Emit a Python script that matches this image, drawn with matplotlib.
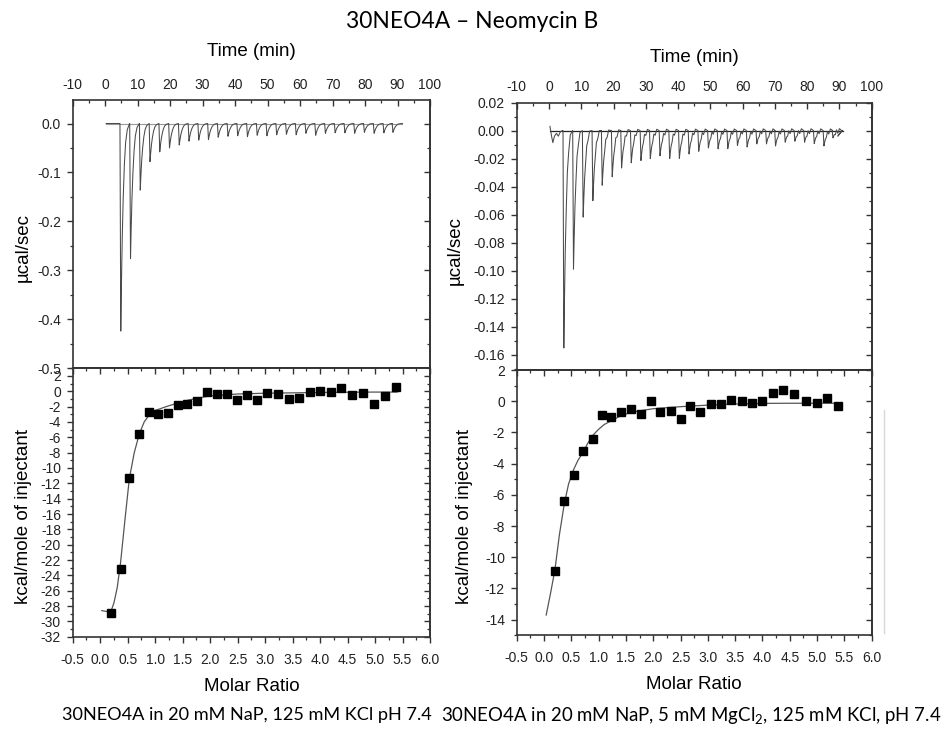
import matplotlib
matplotlib.use("Agg")
import matplotlib.pyplot as plt
from matplotlib.ticker import MultipleLocator, FormatStrFormatter
from matplotlib.lines import Line2D

plt.rcParams['font.family'] = ['Liberation Sans', 'DejaVu Sans']
plt.rcParams['axes.unicode_minus'] = False
plt.rcParams['mathtext.fontset'] = 'custom'
plt.rcParams['mathtext.rm'] = 'Lato'
plt.rcParams['mathtext.it'] = 'Lato:italic'

TITLE = "30NEO4A \u2013 Neomycin B"
CAP_L = "30NEO4A in 20 mM NaP, 125 mM KCl pH 7.4"
CAP_R = "30NEO4A in 20 mM NaP, 5 mM MgCl$_2$, 125 mM KCl, pH 7.4"

# ---------------- thermogram data (left) ----------------
left_peak_t = [4.8, 7.8, 10.8, 13.8, 16.8, 19.8, 22.8, 25.8, 28.8, 31.8,
               34.8, 37.8, 40.8, 43.8, 46.8, 49.8, 52.8, 55.8, 58.8, 61.8,
               64.8, 67.8, 70.8, 73.8, 76.8, 79.8, 82.8, 85.8, 88.6]
left_peak_y = [-0.424, -0.276, -0.136, -0.078, -0.058, -0.050, -0.044, -0.036, -0.034, -0.033,
               -0.028, -0.026, -0.025, -0.027, -0.024, -0.025, -0.023, -0.022, -0.023, -0.020,
               -0.024, -0.020, -0.019, -0.019, -0.020, -0.018, -0.020, -0.019, -0.018]
left_pre_t = [0.3, 2.0, 4.4]
left_pre_y = [0.0, 0.0, 0.0]
left_end_t = [91.5]
left_end_y = [0.0]

# ---------------- thermogram data (right) ----------------
right_peak_t = [4.6, 7.6, 10.6, 13.6, 16.5, 19.6, 22.5, 25.5, 28.5, 31.4,
                34.4, 37.4, 40.4, 43.4, 46.4, 49.4, 52.4, 55.4, 58.4, 61.4,
                64.4, 67.4, 70.2, 73.2, 76.2, 79.2, 82.2, 85.2, 88.0]
right_peak_y = [-0.155, -0.0988, -0.0617, -0.050, -0.039, -0.033, -0.0267, -0.023, -0.0214, -0.020,
                -0.018, -0.020, -0.0198, -0.0167, -0.0148, -0.0124, -0.013, -0.0129, -0.0107, -0.0117,
                -0.0095, -0.0095, -0.011, -0.0083, -0.0076, -0.0083, -0.0093, -0.011, -0.0052]
right_pre_t = [0.3, 0.8, 1.2, 1.7, 2.3, 2.9, 3.5, 4.2]
right_pre_y = [0.003, -0.004, -0.0086, -0.004, -0.002, -0.004, -0.001, 0.0]
right_end_t = [89.5, 90.2, 91.0]
right_end_y = [-0.004, -0.002, 0.0]

# normalized peak profile (offset from peak minimum, fraction of depth)
prof_dt = [-0.25, 0.0, 0.2, 0.45, 0.75, 1.1, 1.5, 2.0, 2.7]
prof_v = [0.0, 1.0, 0.78, 0.55, 0.36, 0.2, 0.09, 0.03, 0.0]
# small wiggle on the right trace (absolute, µcal/sec)
right_wiggle = [0.0, 0.0, 0.0, 0.0, -0.001, 0.0015, -0.0015, 0.0015, 0.0]

# ---------------- integrated heats (left) ----------------
left_ratio = [0.19, 0.37, 0.53, 0.71, 0.88, 1.05, 1.23, 1.41, 1.58, 1.76,
              1.94, 2.12, 2.30, 2.49, 2.67, 2.85, 3.04, 3.23, 3.43, 3.62,
              3.81, 4.00, 4.20, 4.39, 4.58, 4.78, 4.98, 5.18, 5.38]
left_heat = [-28.96, -23.2, -11.3, -5.6, -2.7, -2.9, -2.8, -1.74, -1.65, -1.26,
             -0.13, -0.35, -0.30, -1.09, -0.43, -1.13, -0.17, -0.39, -1.04, -0.87,
             -0.13, 0.0, -0.04, 0.48, -0.43, -0.17, -1.69, -0.56, 0.52]
left_fit_x = [0.03, 0.19, 0.25, 0.31, 0.37, 0.45, 0.53, 0.62, 0.71, 0.80, 0.90,
              1.0, 1.2, 1.4, 1.6, 1.8, 2.0, 2.5, 3.0, 3.5, 4.0, 4.5, 5.0, 5.4]
left_fit_y = [-28.6, -28.8, -27.6, -25.6, -22.4, -16.8, -11.4, -8.0, -5.6, -4.0, -3.0,
              -2.5, -2.0, -1.55, -1.15, -0.85, -0.6, -0.35, -0.25, -0.2, -0.15, -0.12, -0.1, -0.1]

# ---------------- integrated heats (right) ----------------
right_ratio = [0.20, 0.37, 0.54, 0.71, 0.89, 1.06, 1.23, 1.41, 1.59, 1.77,
               1.95, 2.13, 2.32, 2.50, 2.68, 2.86, 3.05, 3.24, 3.43, 3.62,
               3.81, 4.00, 4.19, 4.38, 4.58, 4.79, 4.99, 5.18, 5.38]
right_heat = [-10.91, -6.40, -4.74, -3.17, -2.40, -0.89, -1.04, -0.66, -0.51, -0.81,
              0.04, -0.66, -0.60, -1.13, -0.28, -0.66, -0.15, -0.19, 0.06, 0.04,
              -0.09, 0.04, 0.53, 0.74, 0.47, 0.02, -0.13, 0.21, -0.30]
right_fit_x = [0.04, 0.12, 0.20, 0.28, 0.37, 0.45, 0.54, 0.62, 0.71, 0.80, 0.89,
               1.0, 1.1, 1.23, 1.4, 1.6, 2.0, 2.5, 3.0, 3.5, 4.0, 4.5, 5.0, 5.4]
right_fit_y = [-13.7, -12.3, -10.8, -8.6, -6.6, -5.3, -4.4, -3.8, -3.3, -2.7, -2.2,
               -1.8, -1.5, -1.25, -0.95, -0.7, -0.48, -0.35, -0.25, -0.18, -0.14, -0.13, -0.13, -0.13]


def build_trace(pre_t, pre_y, peak_t, peak_y, end_t, end_y, wiggle=None):
    ts, ys = list(pre_t), list(pre_y)
    for tp, d in zip(peak_t, peak_y):
        for k, (dt, v) in enumerate(zip(prof_dt, prof_v)):
            ts.append(tp + dt)
            w = wiggle[k] if wiggle is not None else 0.0
            ys.append(d * v + w)
    ts += list(end_t)
    ys += list(end_y)
    return ts, ys


SPC = '#333333'
TXT = '#222222'


def style_axes(ax, xmaj, xmin, ymaj, ymin, top_panel):
    for s in ax.spines.values():
        s.set_color(SPC)
        s.set_linewidth(1.2)
    ax.xaxis.set_major_locator(MultipleLocator(xmaj))
    ax.xaxis.set_minor_locator(MultipleLocator(xmin))
    ax.yaxis.set_major_locator(MultipleLocator(ymaj))
    ax.yaxis.set_minor_locator(MultipleLocator(ymin))
    ax.tick_params(axis='y', which='both', direction='out', left=True, right=False,
                   labelsize=10, labelcolor=TXT, color=SPC, pad=4)
    ax.tick_params(which='major', length=4.5, width=1.0)
    ax.tick_params(which='minor', length=2.5, width=0.9)
    secy = ax.secondary_yaxis('right')
    secy.yaxis.set_major_locator(MultipleLocator(ymaj))
    secy.yaxis.set_minor_locator(MultipleLocator(ymin))
    secy.tick_params(which='both', direction='in', labelright=False, color=SPC)
    secy.tick_params(which='major', length=4.5, width=1.0)
    secy.tick_params(which='minor', length=2.5, width=0.9)
    secy.spines['right'].set_color(SPC)
    secy.spines['right'].set_linewidth(1.2)
    if top_panel:
        ax.tick_params(axis='x', which='both', direction='in', top=True, bottom=False,
                       labeltop=True, labelbottom=False, labelsize=10, labelcolor=TXT,
                       color=SPC, pad=6)
    else:
        ax.tick_params(axis='x', which='both', direction='out', top=False, bottom=True,
                       labelsize=10, labelcolor=TXT, color=SPC, pad=7)
        secx = ax.secondary_xaxis('top')
        secx.xaxis.set_major_locator(MultipleLocator(xmaj))
        secx.xaxis.set_minor_locator(MultipleLocator(xmin))
        secx.tick_params(which='both', direction='in', labeltop=False, color=SPC)
        secx.tick_params(which='major', length=4.5, width=1.0)
        secx.tick_params(which='minor', length=2.5, width=0.9)
        secx.spines['top'].set_color(SPC)
        secx.spines['top'].set_linewidth(1.2)


W, H = 944, 731
fig = plt.figure(figsize=(W / 100, H / 100), dpi=100)


def fr(x0, y0, x1, y1):
    return [x0 / W, 1 - y1 / H, (x1 - x0) / W, (y1 - y0) / H]


axLT = fig.add_axes(fr(72.7, 100, 430, 368.3))
axLB = fig.add_axes(fr(72.7, 368.3, 430, 636.7))
axRT = fig.add_axes(fr(516.7, 102.5, 871.7, 370))
axRB = fig.add_axes(fr(516.7, 370, 871.7, 635.3))

# ---- left top ----
tL, yL = build_trace(left_pre_t, left_pre_y, left_peak_t, left_peak_y, left_end_t, left_end_y)
axLT.plot([0.3, 91.5], [0, 0], color='#9a9a9a', lw=0.8)
axLT.plot(tL, yL, color='#4a4a4a', lw=0.75)
axLT.set_xlim(-10, 100)
axLT.set_ylim(-0.5, 0.048)
style_axes(axLT, 10, 5, 0.1, 0.05, True)
axLT.yaxis.set_major_formatter(FormatStrFormatter('%.1f'))
axLT.set_xlabel('Time (min)', fontsize=13.5)
axLT.xaxis.set_label_position('top')
axLT.set_ylabel('\u00b5cal/sec', fontsize=13.5)

# ---- left bottom ----
axLB.plot(left_fit_x, left_fit_y, color='#555555', lw=0.9)
axLB.plot(left_ratio, left_heat, 's', color='black', ms=5.5)
axLB.set_xlim(-0.5, 6.0)
axLB.set_ylim(-32, 3)
style_axes(axLB, 0.5, 0.25, 2, 1, False)
axLB.xaxis.set_major_formatter(FormatStrFormatter('%.1f'))
axLB.set_yticks(list(range(-32, 3, 2)))
axLB.set_xlabel('Molar Ratio', fontsize=13.5)
axLB.set_ylabel('kcal/mole of injectant', fontsize=13.5)

# ---- right top ----
tR, yR = build_trace(right_pre_t, right_pre_y, right_peak_t, right_peak_y, right_end_t, right_end_y,
                     right_wiggle)
axRT.plot([0.3, 91.0], [0, 0], color='#222222', lw=0.9)
axRT.plot(tR, yR, color='#4a4a4a', lw=0.75)
axRT.set_xlim(-10, 100)
axRT.set_ylim(-0.1707, 0.02)
style_axes(axRT, 10, 5, 0.02, 0.01, True)
axRT.yaxis.set_major_formatter(FormatStrFormatter('%.2f'))
axRT.set_xlabel('Time (min)', fontsize=13.5)
axRT.xaxis.set_label_position('top')
axRT.set_ylabel('\u00b5cal/sec', fontsize=13.5)

# ---- right bottom ----
axRB.plot(right_fit_x, right_fit_y, color='#555555', lw=0.9)
axRB.plot(right_ratio, right_heat, 's', color='black', ms=5.5)
axRB.set_xlim(-0.5, 6.0)
axRB.set_ylim(-15, 2)
style_axes(axRB, 0.5, 0.25, 2, 1, False)
axRB.xaxis.set_major_formatter(FormatStrFormatter('%.1f'))
axRB.set_xlabel('Molar Ratio', fontsize=13.5)
axRB.set_ylabel('kcal/mole of injectant', fontsize=13.5)

# label positions (axes coordinates)
axLT.xaxis.set_label_coords(0.5, 1.18)
axLT.xaxis.label.set_va('center')
axRT.xaxis.set_label_coords(0.5, 1.17)
axRT.xaxis.label.set_va('center')
axLT.yaxis.set_label_coords(-0.139, 0.452)
axLT.yaxis.label.set_va('center')
axRT.yaxis.set_label_coords(-0.174, 0.448)
axRT.yaxis.label.set_va('center')
axLB.yaxis.set_label_coords(-0.139, 0.446)
axLB.yaxis.label.set_va('center')
axRB.yaxis.set_label_coords(-0.146, 0.446)
axRB.yaxis.label.set_va('center')
axLB.xaxis.set_label_coords(0.5, -0.187)
axLB.xaxis.label.set_va('center')
axRB.xaxis.set_label_coords(0.5, -0.187)
axRB.xaxis.label.set_va('center')

# faint vertical line at right edge (as in source image)
fig.add_artist(Line2D([884 / W, 884 / W], [1 - 410 / H, 1 - 633 / H], color='#d8d8d8', lw=1.0))

fig.text(472 / W, 1 - 22 / H, TITLE, ha='center', va='center', fontsize=16.5, family=['Lato', 'DejaVu Sans'])
fig.text(247 / W, 1 - 715 / H, CAP_L, ha='center', va='center', fontsize=13.1, family=['Lato', 'DejaVu Sans'])
fig.text(691 / W, 1 - 715 / H, CAP_R, ha='center', va='center', fontsize=13.4, family=['Lato', 'DejaVu Sans'])

fig.savefig('out.png', dpi=100)
